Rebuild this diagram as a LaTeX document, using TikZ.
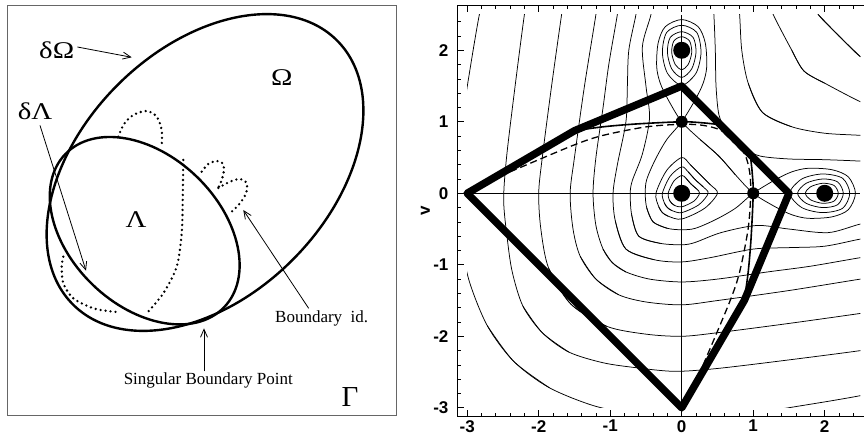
\documentclass[tikz,border=0pt]{standalone}
\usepackage{fontspec}
\setmainfont{Liberation Serif}
\newfontfamily\plotfont{Liberation Sans}
\usetikzlibrary{arrows.meta}

% level lines on the u<=v side; the picture is symmetric in u<->v
\newcommand\halfcurves{%
  % outer lines round the lower left
  \draw[cl] plot[smooth] coordinates {(-2.76,2.75) (-2.83,2.5) (-2.95,1.8) (-3.07,1) (-3.12,0.2) (-3.08,-0.6) (-2.98,-1.2) (-2.72,-1.85) (-2.35,-2.35) (-1.85,-2.72)};
  \draw[cl] plot[smooth] coordinates {(-2.15,2.75) (-2.2,2.5) (-2.33,1.5) (-2.45,0.5) (-2.49,-0.1) (-2.44,-0.63) (-2.37,-1.1) (-2.22,-1.58) (-1.95,-1.95) (-1.58,-2.22)};
  \draw[cl] plot[smooth] coordinates {(-1.64,2.75) (-1.68,2.5) (-1.82,1.5) (-1.95,0.5) (-2,0) (-1.97,-0.5) (-1.86,-1.05) (-1.55,-1.55) (-1.05,-1.86)};
  \draw[cl] plot[smooth] coordinates {(-1.17,2.75) (-1.2,2.5) (-1.36,1.5) (-1.5,0.5) (-1.56,0) (-1.52,-0.5) (-1.42,-0.88) (-1.2,-1.2) (-0.88,-1.42)};
  \draw[cl] plot[smooth] coordinates {(-0.87,2.75) (-0.9,2.5) (-1.02,1.8) (-1.1,1.2) (-1.2,0.5) (-1.24,0) (-1.2,-0.45) (-1.1,-0.78) (-0.97,-0.97) (-0.78,-1.1)};
  \draw[cl] plot[smooth] coordinates {(-0.61,2.75) (-0.64,2.5) (-0.74,2) (-0.76,1.5) (-0.78,1) (-0.9,0.4) (-0.96,0) (-0.93,-0.38) (-0.78,-0.78) (-0.38,-0.93)};
  \draw[cl] plot[smooth] coordinates {(-0.41,2.75) (-0.43,2.5) (-0.55,2.05) (-0.5,1.5) (-0.45,1.05) (-0.55,0.55) (-0.69,0.18) (-0.72,0) (-0.7,-0.3) (-0.6,-0.6) (-0.3,-0.7)};
  % lines round the upper right
  \draw[cl] plot[smooth] coordinates {(0.43,2.75) (0.45,2.5) (0.47,2) (0.48,1.5) (0.52,1.1) (0.62,0.88) (0.74,0.74) (0.88,0.62)};
  \draw[cl] plot[smooth] coordinates {(0.78,2.75) (0.81,2.5) (0.84,2) (0.93,1.54) (1.13,1.13) (1.54,0.93)};
  \draw[cl] plot[smooth] coordinates {(1.2,2.75) (1.28,2.5) (1.54,2) (1.71,1.71) (2,1.54)};
  \draw[cl] plot[smooth] coordinates {(1.8,2.75) (1.91,2.5) (2.2,2.2) (2.5,1.91)};
  % separatrix through the saddle
  \draw[cl] plot[smooth] coordinates {(0.75,0.26) (0.52,0.52) (0.26,0.75) (0,1) (-0.19,1.31) (-0.3,1.54) (-0.35,1.77) (-0.33,2.1) (-0.23,2.33) (0,2.43) (0.23,2.33) (0.33,2.1) (0.35,1.77) (0.3,1.54) (0.19,1.31) (0,1) (-0.21,0.75) (-0.37,0.47) (-0.49,0.19) (-0.51,0) (-0.49,-0.2) (-0.4,-0.4) (-0.2,-0.49)};
  % wells
  \draw[cl] plot[smooth cycle] coordinates {(0,2.19) (0.11,2.13) (0.14,1.97) (0.09,1.8) (0,1.73) (-0.09,1.8) (-0.14,1.97) (-0.11,2.13)};
  \draw[cl] plot[smooth cycle] coordinates {(0,2.26) (0.16,2.18) (0.2,1.97) (0.14,1.74) (0,1.62) (-0.14,1.74) (-0.2,1.97) (-0.16,2.18)};
  \draw[cl] plot[smooth cycle] coordinates {(0,2.35) (0.21,2.25) (0.27,1.97) (0.2,1.68) (0,1.51) (-0.2,1.68) (-0.27,1.97) (-0.21,2.25)};
  \draw[cl] plot[smooth] coordinates {(0.21,0.06) (0.13,0.13) (0.06,0.21) (0,0.25) (-0.11,0.17) (-0.19,0) (-0.17,-0.1) (-0.14,-0.14) (-0.1,-0.17)};
  \draw[cl] plot[smooth] coordinates {(0.3,0.09) (0.19,0.19) (0.09,0.3) (0,0.37) (-0.16,0.24) (-0.27,0) (-0.24,-0.14) (-0.2,-0.2) (-0.14,-0.24)};
  \draw[cl] plot[smooth] coordinates {(0.4,0.12) (0.26,0.26) (0.12,0.4) (0,0.5) (-0.21,0.32) (-0.36,0) (-0.32,-0.19) (-0.27,-0.27) (-0.19,-0.32)};
  % curves inside the boundary
  \draw[dsh] plot[smooth] coordinates {(-2.4,0.3) (-1.52,0.67) (-1.1,0.81) (-0.49,0.93) (0,0.965) (0.3,0.95) (0.55,0.88) (0.72,0.72) (0.88,0.55)};
  \draw[sep] plot[smooth] coordinates {(-1.5,0.875) (-1.1,0.93) (-0.63,0.97) (0,1) (0.3,0.985) (0.53,0.96)};
}

\begin{document}
\begin{tikzpicture}[x=1pt,y=1pt,
  txt/.style={font=\fontsize{17}{17}\selectfont,inner sep=0pt},
  grk/.style={font=\fontsize{24}{24}\selectfont,inner sep=0pt},
  ar/.style={-{Straight Barb[length=8pt,width=7pt]},line width=0.8pt},
  bd/.style={line width=2.4pt},
  dt/.style={line width=2.6pt,line cap=round,dash pattern=on 0pt off 5pt},
  cl/.style={line width=0.75pt},
  sep/.style={line width=1.6pt},
  dsh/.style={line width=1.3pt,dash pattern=on 7pt off 4pt},
  bnd/.style={line width=7.5pt,line join=round},
  tk/.style={font=\plotfont\bfseries\fontsize{17}{17}\selectfont,inner sep=0pt}]
\useasboundingbox (0,0) rectangle (864,438);

% left: the two domains
\draw[black!60,line width=1pt] (7.3,22) rectangle (396.7,432);
\draw[bd] (205,265.5) ellipse [x radius=186.7,y radius=123.7,rotate=45];
\draw[bd] (144.7,207.3) ellipse [x radius=110.3,y radius=75,rotate=-44];
\draw[dt] plot[smooth] coordinates {(118.3,301.3) (124,314) (133.3,323) (146.7,327) (156.7,321.3) (161.7,308) (161.7,293)};
\draw[dt] plot[smooth] coordinates {(183.3,278) (182.7,238) (181.7,204.7) (176.7,171.3) (163.3,144.7) (146.7,124.7)};
\draw[dt] plot[smooth] coordinates {(201.7,266.3) (208.3,274) (216.7,277) (222.7,274.7) (224,268) (221.7,258) (218.3,250)};
\draw[dt] plot[smooth] coordinates {(218.3,250) (230,256.3) (240,259) (246.7,254.7) (246,244.7) (240,234.7) (231.7,226.3)};
\draw[dt] plot[smooth] coordinates {(63.3,181.3) (61.7,171.3) (63.3,154.7) (73.3,139.7) (93.3,129.7) (113.3,126.3) (120,126.3)};

\node[grk] (dO) at (56.7,388) {\scalebox{1.2}[1]{δΩ}};
\node[grk] (dL) at (35,326.3) {\scalebox{1.2}[1]{δΛ}};
\node[grk] (O) at (281.7,360.7) {\scalebox{1.2}[1]{Ω}};
\node[grk] (L) at (136,218) {\scalebox{1.2}[1]{Λ}};
\node[font=\fontsize{29}{29}\selectfont,inner sep=0pt] (G) at (350,41.3) {Γ};
\node[txt] (bid) at (321.7,119.7) {Boundary\ \ id.};
\node[txt] (sbp) at (208.3,57.3) {Singular Boundary Point};
\coordinate (dOtip) at (131.7,380.7);
\coordinate (dLtip) at (86,167.3);
\coordinate (bidtip) at (243.3,228);
\coordinate (sbptip) at (204,109.7);
\draw[ar] ([xshift=3pt,yshift=3pt]dO.east) -- (dOtip);
\draw[ar] ([xshift=5pt,yshift=-5pt]dL.south) -- (dLtip);
\draw[ar] ([xshift=-13pt,yshift=2pt]bid.north) -- (bidtip);
\draw[ar] ([xshift=-4.3pt,yshift=1.5pt]sbp.north) -- (sbptip);

% right: level lines in the (u,v) plane
\begin{scope}[shift={(681.7,244.7)},x=71.5pt,y=71.5pt]
  \begin{scope}
    \clip (-3,-3) rectangle (2.5,2.5);
    \halfcurves
    \begin{scope}[cm={0,1,1,0,(0,0)}]
      \halfcurves
    \end{scope}
  \end{scope}
  \draw[cl] (-3,0) -- (2.5,0);
  \draw[cl] (0,-3) -- (0,2.5);
  \draw[bnd] (-3,0) -- (-1.5,0.875) -- (0,1.5) -- (1.5,0) -- (0.875,-1.5) -- (0,-3) -- cycle;
  \foreach \p in {(0,2),(0,0),(2,0)} \fill \p circle (8.5pt);
  \foreach \p in {(0,1),(1,0)} \fill \p circle (6pt);
  % frame and ticks
  \draw[line width=1.3pt] (2.6,2.63) -- (-3.14,2.63) -- (-3.14,-3.125) -- (2.6,-3.125);
  \foreach \t in {-3,-2.8,...,2.5} {
    \draw[line width=0.7pt] (-3.14,\t) -- ++(4pt,0);
    \draw[line width=0.7pt] (\t,-3.125) -- ++(0,4pt);
    \draw[line width=0.7pt] (\t,2.63) -- ++(0,-4pt);
  }
  \foreach \t in {-3,...,2} {
    \draw[line width=0.9pt] (-3.14,\t) -- ++(7pt,0);
    \draw[line width=0.9pt] (\t,-3.125) -- ++(0,7pt);
    \draw[line width=0.9pt] (\t,2.63) -- ++(0,-7pt);
    \node[tk,anchor=east] (yl\t) at (-3.26,\t) {\t};
    \node[tk,anchor=north] (xl\t) at (\t,-3.17) {\t};
  }
  \node[tk,rotate=90] (vl) at (-3.586,-0.248) {v};
\end{scope}
\end{tikzpicture}
\end{document}
